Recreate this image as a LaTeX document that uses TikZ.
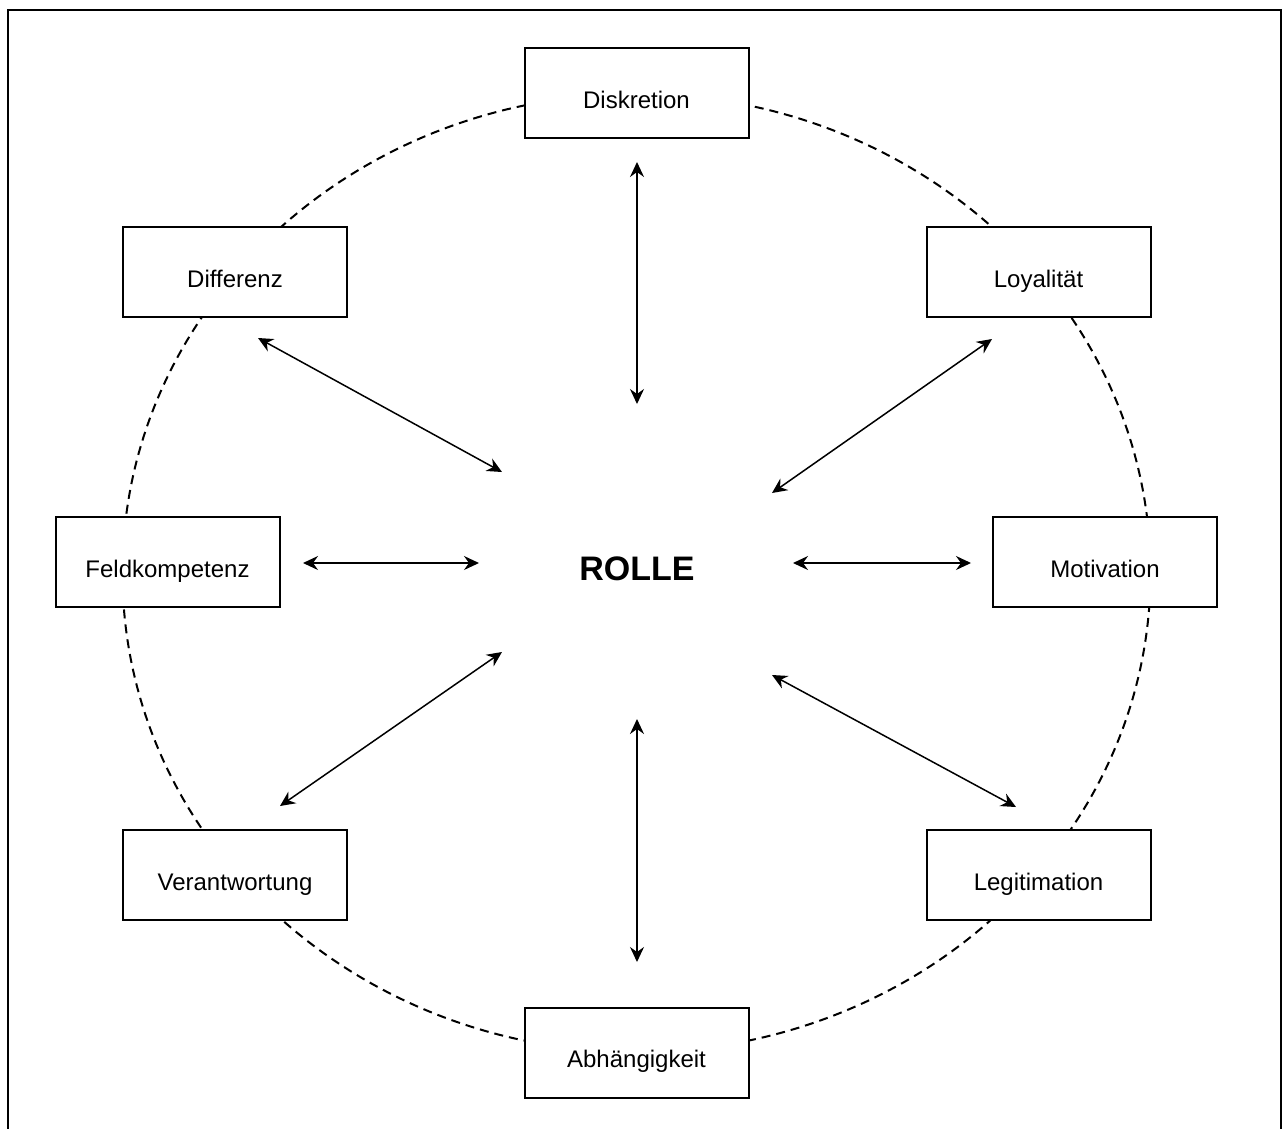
\documentclass[tikz,border=0pt]{standalone}
\usepackage{fontspec}
\setmainfont{Liberation Sans}
\usetikzlibrary{arrows.meta}
\begin{document}
\begin{tikzpicture}[x=1pt,y=-1pt,
  box/.style={draw=black,line width=2pt,fill=white,minimum width=224pt,minimum height=90pt,
    inner sep=0pt,text height=30pt,text depth=0pt,font=\fontsize{24}{28}\selectfont},
  link/.style={line width=1.5pt,{Stealth[length=15pt,width=14pt,inset=5pt]}-{Stealth[length=15pt,width=14pt,inset=5pt]}},
  ring/.style={line width=2pt,dash pattern=on 9pt off 6pt}
]
\useasboundingbox (0,0) rectangle (1283,1128);
% frame (no bottom edge visible)
\draw[line width=2pt] (8,1130) -- (8,10) -- (1280.5,10) -- (1280.5,1130);
% dashed ring
\draw[ring] (636.5,573) ellipse [x radius=514, y radius=479];
% boxes
\node[box] (disk) at (636.5,93)  {Diskretion};
\node[box] (loy)  at (1038.5,272) {Loyalität};
\node[box] (mot)  at (1105,562)  {Motivation};
\node[box] (leg)  at (1038.5,875) {Legitimation};
\node[box] (abh)  at (636.5,1052.5) {Abhängigkeit};
\node[box] (ver)  at (235,875)   {Verantwortung};
\node[box] (feld) at (167.5,562) {Feldkompetenz};
\node[box] (dif)  at (235,272)   {Differenz};
\node (rolle) at (637,569) {\fontsize{34}{40}\selectfont\bfseries ROLLE};
% arrow end coordinates
\coordinate (t1) at (637,162);  \coordinate (t2) at (637,404);
\coordinate (b1) at (637,719);  \coordinate (b2) at (637,962);
\coordinate (l1) at (303,563);  \coordinate (l2) at (479,563);
\coordinate (r1) at (793,563);  \coordinate (r2) at (971,563);
\coordinate (dl1) at (258,338); \coordinate (dl2) at (502,472);
\coordinate (dr1) at (992,339); \coordinate (dr2) at (772,493);
\coordinate (ul1) at (502,652); \coordinate (ul2) at (280,806);
\coordinate (ur1) at (772,675); \coordinate (ur2) at (1016,807);
\draw[link] (t1) -- (t2);
\draw[link] (b1) -- (b2);
\draw[link] (l1) -- (l2);
\draw[link] (r1) -- (r2);
\draw[link] (dl1) -- (dl2);
\draw[link] (dr1) -- (dr2);
\draw[link] (ul1) -- (ul2);
\draw[link] (ur1) -- (ur2);
\end{tikzpicture}
\end{document}
